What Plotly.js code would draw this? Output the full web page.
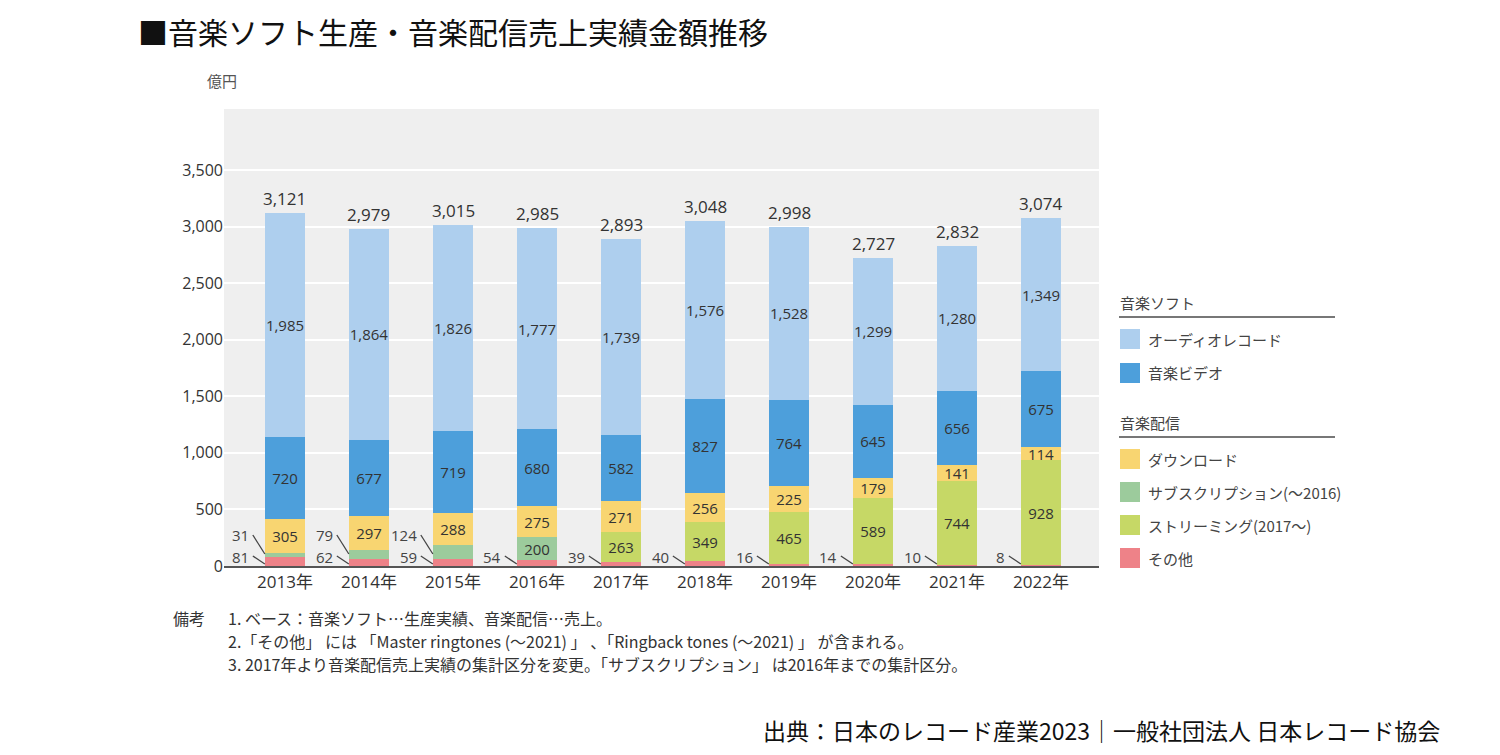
<!DOCTYPE html>
<html>
<head>
<meta charset="utf-8">
<script src="https://cdn.plot.ly/plotly-3.0.1.min.js"></script>
<style>html,body{margin:0;padding:0;background:#fff;}#chart{width:1500px;height:755px;}</style>
</head>
<body>
<div id="chart"></div>
<script>
// ---- data ----
const years = ["2013年","2014年","2015年","2016年","2017年","2018年","2019年","2020年","2021年","2022年"];
const audio = [1985,1864,1826,1777,1739,1576,1528,1299,1280,1349];
const video = [720,677,719,680,582,827,764,645,656,675];
const download = [305,297,288,275,271,256,225,179,141,114];
const subscription = [31,79,124,200,0,0,0,0,0,0];
const streaming = [0,0,0,0,263,349,465,589,744,928];
const other = [81,62,59,54,39,40,16,14,10,8];
const totals = [3121,2979,3015,2985,2893,3048,2998,2727,2832,3074];
const yTicks = [0,500,1000,1500,2000,2500,3000,3500];
const seriesNames = ["オーディオレコード","音楽ビデオ","ダウンロード","サブスクリプション(～2016)","ストリーミング(2017～)","その他"];
const groupNames = ["音楽ソフト","音楽配信"];
const colors = {audio:"#aecfee", video:"#4d9fdb", download:"#f8d571", subscription:"#9ccb9c", streaming:"#c6d866", other:"#ee8288"};

const FONT = "Open Sans, Noto Sans CJK JP, sans-serif";
const JFONT = "Noto Sans CJK JP, sans-serif";

// plot area in pixels
const L = 224, R = 1099, T = 109, B = 566;
const px = x => (x - L) / (R - L);
const py = y => (B - y) / (B - T);

const BW = 0.48;
const xs = years.map((_, i) => i);
const fmt = v => v.toLocaleString("en-US");

function barTrace(vals, color, name, textFn) {
  return {
    type: "bar", x: xs, y: vals, name: name,
    marker: {color: color, line: {width: 0}},
    width: BW,
    text: vals.map(textFn),
    textposition: "inside", insidetextanchor: "middle", textangle: 0,
    constraintext: "none",
    textfont: {family: FONT, size: 15, color: "#333"},
    hoverinfo: "skip", showlegend: false, cliponaxis: false
  };
}
const showAll = v => v > 0 ? String(v) : "";
const showBig = v => v >= 150 ? String(v) : "";
const none = v => "";

const data = [
  barTrace(other, colors.other, seriesNames[5], none),
  barTrace(subscription, colors.subscription, seriesNames[3], showBig),
  barTrace(streaming, colors.streaming, seriesNames[4], showAll),
  barTrace(download, colors.download, seriesNames[2], showAll),
  barTrace(video, colors.video, seriesNames[1], showAll),
  barTrace(audio, colors.audio, seriesNames[0], v => fmt(v))
];

const annotations = [];
const shapes = [];

// totals
totals.forEach((t, i) => {
  annotations.push({x: i, y: t, xref: "x", yref: "y", text: fmt(t), showarrow: false,
    yanchor: "bottom", yshift: 1, font: {family: FONT, size: 17, color: "#333"}});
});

// small outside labels with leader lines
xs.forEach(i => {
  const left = i - BW / 2;
  annotations.push({x: left, y: 0, xref: "x", yref: "y", text: String(other[i]), showarrow: false,
    xanchor: "right", yanchor: "middle", xshift: -14, yshift: 9,
    font: {family: FONT, size: 15, color: "#444"}});
  shapes.push({type: "line", xref: "x", yref: "y", xsizemode: "pixel", ysizemode: "pixel",
    xanchor: left, yanchor: 0, x0: -12, x1: 0, y0: 10, y1: 2, line: {color: "#444", width: 1.3}});
  if (subscription[i] > 0 && subscription[i] < 150) {
    annotations.push({x: left, y: 0, xref: "x", yref: "y", text: String(subscription[i]), showarrow: false,
      xanchor: "right", yanchor: "middle", xshift: -14, yshift: 31,
      font: {family: FONT, size: 15, color: "#444"}});
    shapes.push({type: "line", xref: "x", yref: "y", xsizemode: "pixel", ysizemode: "pixel",
      xanchor: left, yanchor: 0, x0: -12, x1: 0, y0: 31, y1: 12, line: {color: "#444", width: 1.3}});
  }
});

// custom legend
function legendHeader(text, yc, yl) {
  annotations.push({xref: "paper", yref: "paper", x: px(1118), y: py(yc), text: text, showarrow: false,
    xanchor: "left", yanchor: "middle", font: {family: JFONT, size: 15, color: "#444"}});
  shapes.push({type: "line", xref: "paper", yref: "paper", x0: px(1119), x1: px(1335), y0: py(yl), y1: py(yl),
    line: {color: "#777", width: 2}});
}
function legendItem(text, color, yc) {
  shapes.push({type: "rect", xref: "paper", yref: "paper", x0: px(1120), x1: px(1140), y0: py(yc + 10), y1: py(yc - 10),
    fillcolor: color, line: {width: 0}});
  annotations.push({xref: "paper", yref: "paper", x: px(1146), y: py(yc), text: text, showarrow: false,
    xanchor: "left", yanchor: "middle", font: {family: JFONT, size: 15, color: "#444"}});
}
legendHeader(groupNames[0], 302, 317);
legendItem(seriesNames[0], colors.audio, 339);
legendItem(seriesNames[1], colors.video, 373);
legendHeader(groupNames[1], 422, 437);
legendItem(seriesNames[2], colors.download, 459);
legendItem(seriesNames[3], colors.subscription, 492);
legendItem(seriesNames[4], colors.streaming, 525);
legendItem(seriesNames[5], colors.other, 558);

// unit label
annotations.push({xref: "paper", yref: "paper", x: px(205), y: py(80), text: "億円", showarrow: false,
  xanchor: "left", yanchor: "middle", font: {family: JFONT, size: 15, color: "#555"}});

// notes
const noteFont = {family: JFONT, size: 16, color: "#333"};
annotations.push({xref: "paper", yref: "paper", x: px(171), y: py(618), text: "備考", showarrow: false,
  xanchor: "left", yanchor: "middle", font: noteFont});
const notes = [
  "1. ベース：音楽ソフト…生産実績、音楽配信…売上。",
  "2.「その他」 には 「Master ringtones (～2021) 」 、「Ringback tones (～2021) 」 が含まれる。",
  "3. 2017年より音楽配信売上実績の集計区分を変更。「サブスクリプション」 は2016年までの集計区分。"
];
[618, 641, 664].forEach((y, k) => {
  annotations.push({xref: "paper", yref: "paper", x: px(226), y: py(y), text: notes[k], showarrow: false,
    xanchor: "left", yanchor: "middle", font: noteFont});
});

// source
annotations.push({xref: "paper", yref: "paper", x: px(1442), y: py(730), text: "出典：日本のレコード産業2023｜一般社団法人 日本レコード協会",
  showarrow: false, xanchor: "right", yanchor: "middle", font: {family: JFONT, size: 23, color: "#111"}});

const layout = {
  width: 1500, height: 755,
  margin: {l: L, r: 1500 - R, t: T, b: 755 - B, pad: 0},
  paper_bgcolor: "#ffffff", plot_bgcolor: "#efefef",
  barmode: "stack", showlegend: false,
  title: {text: "■音楽ソフト生産・音楽配信売上実績金額推移", x: 138 / 1500, xanchor: "left", xref: "container",
    y: 1 - 33 / 755, yanchor: "middle", yref: "container",
    font: {family: JFONT, size: 30, color: "#111"}},
  xaxis: {type: "linear", range: [-0.726, 9.69], tickvals: xs, ticktext: years,
    showgrid: false, zeroline: false, showline: true, linecolor: "#555", linewidth: 2,
    ticks: "", tickfont: {family: FONT, size: 17, color: "#333"}, fixedrange: true},
  yaxis: {range: [0, 4040], tickvals: yTicks, ticktext: yTicks.map(fmt),
    showgrid: true, gridcolor: "#ffffff", gridwidth: 2, zeroline: false, showline: false,
    ticks: "", tickfont: {family: FONT, size: 16, color: "#333"}, fixedrange: true},
  annotations: annotations, shapes: shapes,
  font: {family: FONT}
};

Plotly.newPlot("chart", data, layout, {displayModeBar: false, staticPlot: true});
</script>
</body>
</html>
